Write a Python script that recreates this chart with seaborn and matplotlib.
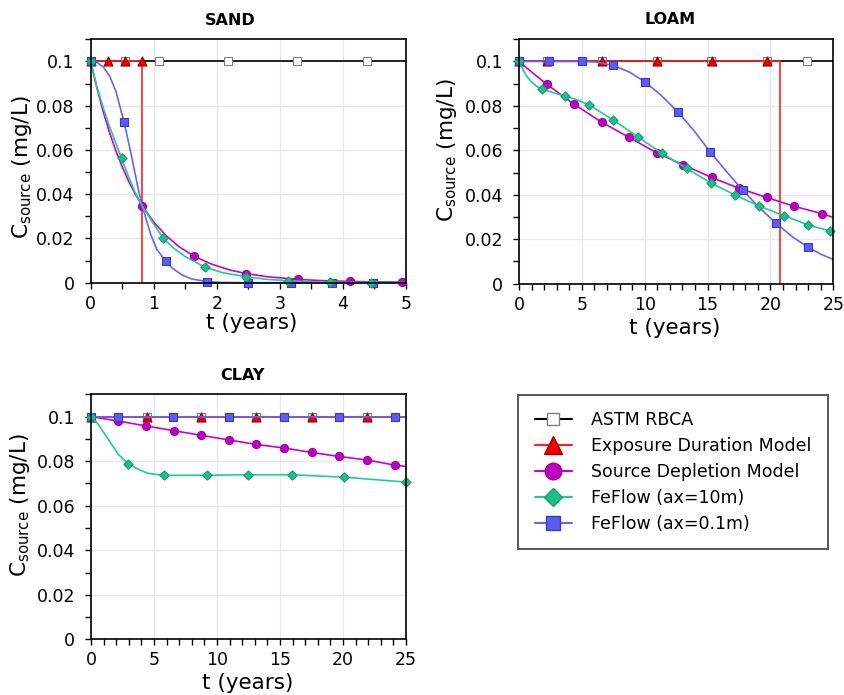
import matplotlib
matplotlib.use("Agg")
import matplotlib.pyplot as plt
from matplotlib.lines import Line2D
from matplotlib.ticker import MultipleLocator
import seaborn as sns

# ---------------- data (t in years, C in mg/L) ----------------
# SAND
sand_astm_t = [0, 5]
sand_astm_c = [0.1, 0.1]
sand_astm_mt = [0, 0.55, 1.09, 2.18, 3.28, 4.38]
sand_exp_t = [0, 0.82, 0.82]
sand_exp_c = [0.1, 0.1, 0]
sand_exp_mt = [0, 0.27, 0.54, 0.82]
sand_dep_t = [0, 0.1, 0.2, 0.3, 0.4, 0.5, 0.6, 0.7, 0.82, 1.0, 1.2, 1.4, 1.64, 1.9,
              2.2, 2.47, 2.8, 3.29, 3.7, 4.11, 4.5, 5.0]
sand_dep_c = [0.1, 0.0879, 0.0772, 0.0678, 0.0596, 0.0524, 0.046, 0.0404, 0.0346, 0.0274,
              0.0212, 0.0163, 0.012, 0.0086, 0.0058, 0.0041, 0.0027, 0.0015, 0.0009,
              0.0006, 0.0004, 0.0003]
sand_dep_mt = [0, 0.82, 1.64, 2.47, 3.29, 4.11, 4.93]
sand_dep_mc = [0.1, 0.0346, 0.012, 0.0041, 0.0016, 0.0006, 0.0003]
sand_ax10_t = [0, 0.1, 0.2, 0.3, 0.4, 0.49, 0.6, 0.7, 0.82, 1.0, 1.15, 1.3, 1.5, 1.81,
               2.1, 2.47, 2.8, 3.13, 3.5, 3.8, 4.45, 5.0]
sand_ax10_c = [0.1, 0.0885, 0.079, 0.0705, 0.063, 0.0562, 0.048, 0.041, 0.0345, 0.0265,
               0.0202, 0.016, 0.0118, 0.007, 0.0045, 0.0027, 0.0015, 0.0009, 0.0004,
               0.0002, 0.0001, 0.0001]
sand_ax10_mt = [0, 0.49, 1.15, 1.81, 2.47, 3.13, 3.8, 4.45]
sand_ax10_mc = [0.1, 0.0562, 0.0202, 0.007, 0.0027, 0.0009, 0.0002, 0.0001]
sand_ax01_t = [0, 0.1, 0.2, 0.3, 0.4, 0.53, 0.65, 0.75, 0.82, 0.95, 1.05, 1.19, 1.3,
               1.45, 1.6, 1.85, 2.1, 2.5, 3.17, 3.82, 4.48, 5.0]
sand_ax01_c = [0.1, 0.0995, 0.0975, 0.0935, 0.0865, 0.0726, 0.057, 0.043, 0.0345, 0.022,
               0.015, 0.0098, 0.0065, 0.0035, 0.0017, 0.0005, 0.0001, 0, 0, 0, 0, 0]
sand_ax01_mt = [0, 0.53, 1.19, 1.85, 2.5, 3.17, 3.82, 4.48]
sand_ax01_mc = [0.1, 0.0726, 0.0098, 0.0005, 0, 0, 0, 0]

# LOAM
loam_astm_t = [0, 25]
loam_astm_c = [0.1, 0.1]
loam_astm_mt = [0, 2.2, 6.57, 10.95, 15.3, 19.7, 22.9]
loam_exp_t = [0, 20.78, 20.78]
loam_exp_c = [0.1, 0.1, 0]
loam_exp_mt = [0, 2.2, 6.57, 10.95, 15.35, 19.7]
loam_dep_t = [0, 1.1, 2.2, 4.37, 6.57, 8.77, 10.95, 13.07, 15.32, 17.52, 19.7, 21.9, 24.12, 25]
loam_dep_c = [0.1, 0.0948, 0.0898, 0.0808, 0.0727, 0.0658, 0.0589, 0.0535, 0.0478, 0.0429,
              0.0388, 0.0348, 0.0315, 0.0298]
loam_dep_mt = [0, 2.2, 4.37, 6.57, 8.77, 10.95, 13.07, 15.32, 17.52, 19.7, 21.9, 24.12]
loam_dep_mc = [0.1, 0.0898, 0.0808, 0.0727, 0.0658, 0.0589, 0.0535, 0.0478, 0.0429, 0.0388,
               0.0348, 0.0315]
loam_ax10_t = [0, 0.3, 0.6, 1.0, 1.4, 1.8, 2.3, 2.8, 3.68, 4.6, 5.59, 6.5, 7.5, 8.5, 9.46,
               10.4, 11.4, 13.33, 15.24, 17.18, 19.11, 21.1, 23.0, 24.7, 25]
loam_ax10_c = [0.1, 0.0965, 0.0935, 0.0908, 0.0889, 0.0877, 0.0867, 0.0858, 0.0844, 0.0828,
               0.0804, 0.0772, 0.0736, 0.0698, 0.0661, 0.0624, 0.0586, 0.0519, 0.0454,
               0.0399, 0.0349, 0.0306, 0.0264, 0.0238, 0.0236]
loam_ax10_mt = [0, 1.8, 3.68, 5.59, 7.5, 9.46, 11.4, 13.33, 15.24, 17.18, 19.11, 21.1, 23.0, 24.7]
loam_ax10_mc = [0.1, 0.0877, 0.0844, 0.0804, 0.0736, 0.0661, 0.0586, 0.0519, 0.0454, 0.0399,
                0.0349, 0.0306, 0.0264, 0.0238]
loam_ax01_t = [0, 2.39, 4.98, 6.2, 7.5, 8.8, 10.05, 11.3, 12.62, 13.9, 15.19, 16.5, 17.79,
               19.1, 20.41, 21.7, 22.96, 24.0, 25]
loam_ax01_c = [0.1, 0.1, 0.1, 0.0997, 0.0982, 0.0952, 0.0907, 0.0848, 0.0774, 0.069, 0.0594,
               0.0505, 0.0421, 0.0343, 0.0274, 0.0213, 0.0165, 0.0133, 0.0109]
loam_ax01_mt = [0, 2.39, 4.98, 7.5, 10.05, 12.62, 15.19, 17.79, 20.41, 22.96]
loam_ax01_mc = [0.1, 0.1, 0.1, 0.0982, 0.0907, 0.0774, 0.0594, 0.0421, 0.0274, 0.0165]

# CLAY
clay_astm_t = [0, 25]
clay_astm_c = [0.1, 0.1]
clay_astm_mt = [0, 4.42, 8.76, 13.12, 17.5, 21.9]
clay_exp_t = [0, 25]
clay_exp_c = [0.1, 0.1]
clay_exp_mt = [0, 4.42, 8.76, 13.12, 17.5, 21.9]
clay_dep_t = [0, 2.17, 4.37, 6.56, 8.76, 10.95, 13.12, 15.34, 17.51, 19.71, 21.93, 24.13, 25]
clay_dep_c = [0.1, 0.098, 0.0958, 0.0937, 0.0916, 0.0895, 0.0875, 0.0859, 0.0839, 0.0821,
              0.0805, 0.0782, 0.0776]
clay_dep_mt = clay_dep_t[:-1]
clay_dep_mc = clay_dep_c[:-1]
clay_ax10_t = [0, 0.58, 1.11, 1.64, 2.17, 2.96, 3.76, 4.55, 5.79, 9.23, 12.49, 15.98, 20.1, 25]
clay_ax10_c = [0.1, 0.0965, 0.092, 0.0875, 0.083, 0.0788, 0.0763, 0.0745, 0.0736, 0.0737,
               0.0739, 0.0739, 0.0728, 0.0706]
clay_ax10_mt = [0, 2.96, 5.79, 9.23, 12.49, 15.98, 20.1, 25]
clay_ax10_mc = [0.1, 0.0788, 0.0736, 0.0737, 0.0739, 0.0739, 0.0728, 0.0706]
clay_ax01_t = [0, 25]
clay_ax01_c = [0.1, 0.1]
clay_ax01_mt = [0, 2.17, 6.53, 10.95, 15.34, 19.7, 24.1]

labels = ["ASTM RBCA", "Exposure Duration Model", "Source Depletion Model",
          "FeFlow (ax=10m)", "FeFlow (ax=0.1m)"]

# ---------------- style ----------------
sns.set_theme(style="ticks")
plt.rcParams["font.family"] = ["DejaVu Sans"]
plt.rcParams["mathtext.fontset"] = "dejavusans"
plt.rcParams["mathtext.default"] = "regular"
plt.rcParams["text.color"] = "black"
plt.rcParams["axes.labelcolor"] = "black"
plt.rcParams["xtick.color"] = "black"
plt.rcParams["ytick.color"] = "black"
plt.rcParams["xtick.labelcolor"] = "black"
plt.rcParams["ytick.labelcolor"] = "black"

styles = {
    "astm": dict(line="#000000", face="white", edge="#808080", marker="s", s=26),
    "exp": dict(line="#ff2020", face="#ee0000", edge="#990000", marker="^", s=42),
    "dep": dict(line="#cc00cc", face="#c000c0", edge="#a000a0", marker="o", s=34),
    "ax10": dict(line="#20cc96", face="#1fbf8a", edge="#10a070", marker="D", s=22),
    "ax01": dict(line="#6666ff", face="#5c5cf0", edge="#3a3ac0", marker="s", s=30),
}
order = ["astm", "exp", "dep", "ax01", "ax10"]


def draw_series(ax, key, t, c, mt, mc, z):
    st = styles[key]
    sns.lineplot(x=t, y=c, ax=ax, estimator=None, sort=False, color=st["line"],
                 lw=1.2, zorder=z)
    sns.scatterplot(x=mt, y=mc, ax=ax, marker=st["marker"], s=st["s"], color=st["face"],
                    edgecolor=st["edge"], linewidth=0.8, zorder=z + 0.05, clip_on=False)


def style_axes(ax, xmax, xmajor, xminor, title, tx, ty, ylx, yly, xlx, xly):
    ax.set_xlim(0, xmax)
    ax.set_ylim(0, 0.11)
    ax.xaxis.set_major_locator(MultipleLocator(xmajor))
    ax.xaxis.set_minor_locator(MultipleLocator(xminor))
    ax.yaxis.set_major_locator(MultipleLocator(0.02))
    ax.yaxis.set_minor_locator(MultipleLocator(0.01))
    ax.set_yticks([0, 0.02, 0.04, 0.06, 0.08, 0.1])
    ax.set_yticklabels(["0", "0.02", "0.04", "0.06", "0.08", "0.1"])
    ax.grid(True, which="major", color="#e8e8e8", lw=1)
    ax.set_axisbelow(True)
    for sp in ax.spines.values():
        sp.set_visible(True)
        sp.set_color("black")
        sp.set_linewidth(1.2)
        sp.set_zorder(5)
    ax.tick_params(which="both", direction="out", length=4.5, width=1, color="black",
                   labelsize=12.5, labelcolor="black")
    ax.tick_params(axis="y", pad=7)
    ax.tick_params(axis="x", pad=4)
    ax.set_title(title, fontsize=11.5, fontweight="bold", x=tx, y=ty, va="center",
                 pad=0, color="black")
    ax.set_xlabel("t (years)", fontsize=15.5, color="black")
    ax.set_ylabel(r"C$_{\mathrm{source}}$ (mg/L)", fontsize=15.5, color="black")
    ax.xaxis.label.set_va("center")
    ax.yaxis.label.set_va("center")
    ax.xaxis.set_label_coords(xlx, xly)
    ax.yaxis.set_label_coords(ylx, yly)


fig = plt.figure(figsize=(8.45, 6.95), dpi=100)
ax_sand = fig.add_axes([0.1073, 0.5932, 0.3731, 0.3502])
ax_loam = fig.add_axes([0.6142, 0.5918, 0.3720, 0.3517])
ax_clay = fig.add_axes([0.1077, 0.0801, 0.3728, 0.3525])

panels = [
    (ax_sand, {
        "astm": (sand_astm_t, sand_astm_c, sand_astm_mt, [0.1] * len(sand_astm_mt)),
        "exp": (sand_exp_t, sand_exp_c, sand_exp_mt, [0.1] * len(sand_exp_mt)),
        "dep": (sand_dep_t, sand_dep_c, sand_dep_mt, sand_dep_mc),
        "ax10": (sand_ax10_t, sand_ax10_c, sand_ax10_mt, sand_ax10_mc),
        "ax01": (sand_ax01_t, sand_ax01_c, sand_ax01_mt, sand_ax01_mc),
    }),
    (ax_loam, {
        "astm": (loam_astm_t, loam_astm_c, loam_astm_mt, [0.1] * len(loam_astm_mt)),
        "exp": (loam_exp_t, loam_exp_c, loam_exp_mt, [0.1] * len(loam_exp_mt)),
        "dep": (loam_dep_t, loam_dep_c, loam_dep_mt, loam_dep_mc),
        "ax10": (loam_ax10_t, loam_ax10_c, loam_ax10_mt, loam_ax10_mc),
        "ax01": (loam_ax01_t, loam_ax01_c, loam_ax01_mt, loam_ax01_mc),
    }),
    (ax_clay, {
        "astm": (clay_astm_t, clay_astm_c, clay_astm_mt, [0.1] * len(clay_astm_mt)),
        "exp": (clay_exp_t, clay_exp_c, clay_exp_mt, [0.1] * len(clay_exp_mt)),
        "dep": (clay_dep_t, clay_dep_c, clay_dep_mt, clay_dep_mc),
        "ax10": (clay_ax10_t, clay_ax10_c, clay_ax10_mt, clay_ax10_mc),
        "ax01": (clay_ax01_t, clay_ax01_c, clay_ax01_mt, [0.1] * len(clay_ax01_mt)),
    }),
]

for ax, series in panels:
    for i, key in enumerate(order):
        t, c, mt, mc = series[key]
        draw_series(ax, key, t, c, mt, mc, 2 + i * 0.2)

style_axes(ax_sand, 5, 1, 0.5, "SAND", 0.442, 1.079, -0.218, 0.475, 0.51, -0.166)
style_axes(ax_loam, 25, 5, 1, "LOAM", 0.48, 1.079, -0.23, 0.547, 0.496, -0.181)
style_axes(ax_clay, 25, 5, 1, "CLAY", 0.481, 1.075, -0.225, 0.548, 0.498, -0.178)

# legend
handles = []
for key in ["astm", "exp", "dep", "ax10", "ax01"]:
    st = styles[key]
    ms = {"astm": 8, "exp": 13, "dep": 12, "ax10": 9.5, "ax01": 10}[key]
    handles.append(Line2D([], [], color=st["line"], lw=1.5, marker=st["marker"],
                          markersize=ms, markerfacecolor=st["face"],
                          markeredgecolor=st["edge"], markeredgewidth=1))
leg = fig.legend(handles, labels, loc="upper left",
                 bbox_to_anchor=(518.3 / 845, 1 - 395 / 695),
                 bbox_transform=fig.transFigure, borderaxespad=0, fontsize=12.5,
                 handlelength=2.15, handletextpad=1.1, labelspacing=0.45,
                 borderpad=0.95, fancybox=False, framealpha=1, numpoints=1)
leg.get_frame().set_edgecolor("#555555")
leg.get_frame().set_linewidth(1.4)
for txt in leg.get_texts():
    txt.set_color("black")

fig.savefig("out.png", dpi=100)
